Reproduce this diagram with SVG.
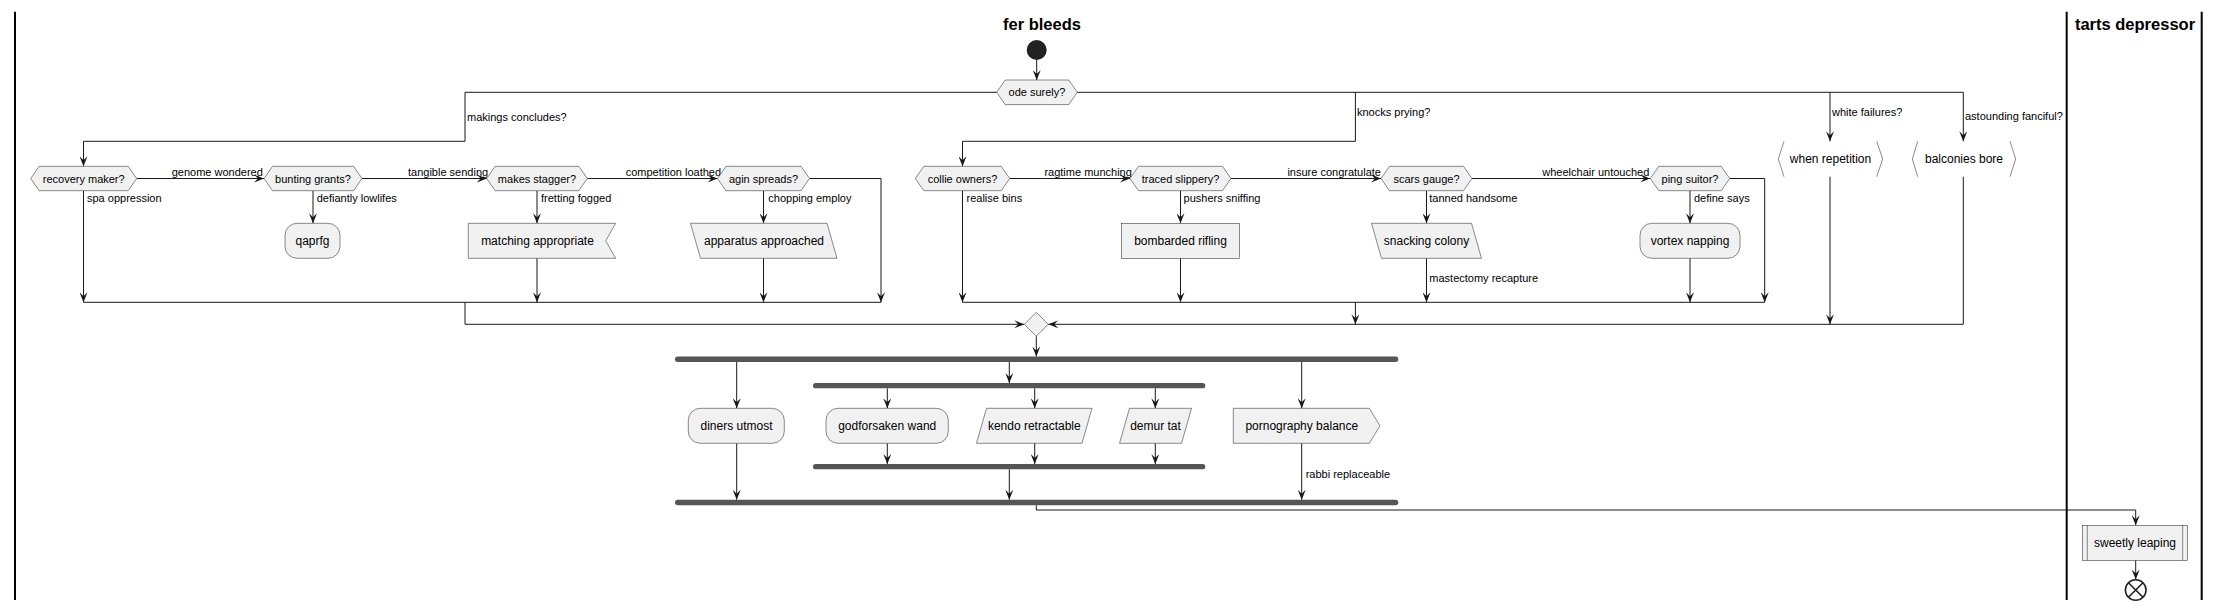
<svg xmlns="http://www.w3.org/2000/svg" width="2220" height="611" viewBox="0 0 2220 611">
<defs>
<marker id="ah" viewBox="0 0 10 8" refX="10" refY="4" markerWidth="10" markerHeight="8" markerUnits="userSpaceOnUse" orient="auto"><path d="M0,0 L10,4 L0,8 L4,4 Z" fill="#181818"/></marker>
<style>
text{font-family:"Liberation Sans",Arial,sans-serif;fill:#000}
.t{font-size:16.5px;font-weight:bold;text-anchor:middle}
.d{font-size:11px;text-anchor:middle}
.a{font-size:12px;text-anchor:middle}
.l{font-size:11px}
.n{fill:#F1F1F1;stroke:#181818;stroke-width:0.5}
.br{fill:none;stroke:#181818;stroke-width:0.5}
.bar{fill:#555555}
.c{fill:none;stroke:#181818;stroke-width:1}
.ar{marker-end:url(#ah)}
.lane{stroke:#000;stroke-width:2}
</style>
</defs>
<rect width="2220" height="611" fill="#fff"/>
<g id="lanes">
<line class="lane" x1="15" y1="11.7" x2="15" y2="600"/>
<line class="lane" x1="2066.7" y1="11.7" x2="2066.7" y2="600"/>
<line class="lane" x1="2201.7" y1="11.7" x2="2201.7" y2="600"/>
<text class="t" x="1042" y="30">fer bleeds</text>
<text class="t" x="2135" y="30">tarts depressor</text>
</g>
<g id="connectors">
<path class="c ar" d="M1036.7,60 V80"/>
<path class="c ar" d="M996.7,92.3 H465 V141.3 H83.5 V166.3"/>
<path class="c ar" d="M1077.3,92.3 H1963.3 V141.3"/>
<path class="c ar" d="M1355.4,92.3 V141.3 H962.5 V166.3"/>
<path class="c ar" d="M1830,92.3 V141.3"/>
<path class="c ar" d="M136.7,178.5 H264"/>
<path class="c ar" d="M362,178.5 H486.7"/>
<path class="c ar" d="M587.3,178.5 H717.5"/>
<path class="c ar" d="M809.5,178.5 H881 V302.3"/>
<path class="c ar" d="M1009.7,178.5 H1130"/>
<path class="c ar" d="M1231,178.5 H1381"/>
<path class="c ar" d="M1472,178.5 H1650.3"/>
<path class="c ar" d="M1729.7,178.5 H1764.7 V302.3"/>
<path class="c ar" d="M83.5,190.7 V302.3"/>
<path class="c ar" d="M313,190.7 V223.3"/>
<path class="c ar" d="M537,190.7 V223.3"/>
<path class="c ar" d="M537,258.3 V302.3"/>
<path class="c ar" d="M763.5,190.7 V223.3"/>
<path class="c ar" d="M763.5,258.3 V302.3"/>
<path class="c ar" d="M962.5,190.7 V302.3"/>
<path class="c ar" d="M1180.5,190.7 V223.3"/>
<path class="c ar" d="M1180.5,258.3 V302.3"/>
<path class="c ar" d="M1426.5,190.7 V223.3"/>
<path class="c ar" d="M1426.5,258.3 V302.3"/>
<path class="c ar" d="M1690,190.7 V223.3"/>
<path class="c ar" d="M1690,258.3 V302.3"/>
<path class="c" d="M83.5,302.3 H881"/>
<path class="c ar" d="M465,302.3 V324.3 H1024.3"/>
<path class="c" d="M962.5,302.3 H1764.7"/>
<path class="c ar" d="M1355.4,302.3 V324.3"/>
<path class="c ar" d="M1830,176.7 V324.3"/>
<path class="c ar" d="M1963.3,176.7 V324.3 H1048.3"/>
<path class="c ar" d="M1036.3,336.3 V356.5"/>
<path class="c ar" d="M736.7,362 V408.3"/>
<path class="c ar" d="M1009.3,362 V383"/>
<path class="c ar" d="M1301.7,362 V408.3"/>
<path class="c ar" d="M887.3,388.3 V408.3"/>
<path class="c ar" d="M1034.7,388.3 V408.3"/>
<path class="c ar" d="M1155.3,388.3 V408.3"/>
<path class="c ar" d="M887.3,443.3 V464"/>
<path class="c ar" d="M1034.7,443.3 V464"/>
<path class="c ar" d="M1155.3,443.3 V464"/>
<path class="c ar" d="M1009.3,469.3 V499.7"/>
<path class="c ar" d="M736.7,443.3 V499.7"/>
<path class="c ar" d="M1301.7,443.3 V499.7"/>
<path class="c ar" d="M1036.3,505.3 V510 H2135.7 V525.3"/>
<path class="c ar" d="M2135.7,560.3 V579.5"/>
<g id="edge-labels">
<text class="l" x="467" y="121">makings concludes?</text>
<text class="l" x="1357" y="116">knocks prying?</text>
<text class="l" x="1832" y="116">white failures?</text>
<text class="l" x="1965" y="120">astounding fanciful?</text>
<text class="l" x="171.7" y="176">genome wondered</text>
<text class="l" x="408" y="176">tangible sending</text>
<text class="l" x="625.7" y="176">competition loathed</text>
<text class="l" x="1044.4" y="176">ragtime munching</text>
<text class="l" x="1287.4" y="176">insure congratulate</text>
<text class="l" x="1542.3" y="176">wheelchair untouched</text>
<text class="l" x="87" y="202">spa oppression</text>
<text class="l" x="316.7" y="202">defiantly lowlifes</text>
<text class="l" x="541" y="202">fretting fogged</text>
<text class="l" x="768.3" y="202">chopping employ</text>
<text class="l" x="966.5" y="202">realise bins</text>
<text class="l" x="1183.6" y="202">pushers sniffing</text>
<text class="l" x="1429.3" y="202">tanned handsome</text>
<text class="l" x="1694" y="202">define says</text>
<text class="l" x="1429.3" y="281.5">mastectomy recapture</text>
<text class="l" x="1305.7" y="478">rabbi replaceable</text>
</g>
</g>
<g id="start"><circle cx="1036.7" cy="50" r="10" fill="#222"/></g>
<g id="ode-surely"><polygon class="n" points="996.7,92.3 1005.2,80 1068.8,80 1077.3,92.3 1068.8,104.6 1005.2,104.6"/><text class="d" x="1037" y="96.3">ode surely?</text></g>
<g id="recovery-maker"><polygon class="n" points="30.7,178.5 39.2,166.3 128.2,166.3 136.7,178.5 128.2,190.7 39.2,190.7"/><text class="d" x="83.7" y="182.5">recovery maker?</text></g>
<g id="bunting-grants"><polygon class="n" points="264,178.5 272.5,166.3 353.5,166.3 362,178.5 353.5,190.7 272.5,190.7"/><text class="d" x="313" y="182.5">bunting grants?</text></g>
<g id="makes-stagger"><polygon class="n" points="486.7,178.5 495.2,166.3 578.8,166.3 587.3,178.5 578.8,190.7 495.2,190.7"/><text class="d" x="537" y="182.5">makes stagger?</text></g>
<g id="agin-spreads"><polygon class="n" points="717.5,178.5 726,166.3 801,166.3 809.5,178.5 801,190.7 726,190.7"/><text class="d" x="763.5" y="182.5">agin spreads?</text></g>
<g id="collie-owners"><polygon class="n" points="915.3,178.5 923.8,166.3 1001.2,166.3 1009.7,178.5 1001.2,190.7 923.8,190.7"/><text class="d" x="962.5" y="182.5">collie owners?</text></g>
<g id="traced-slippery"><polygon class="n" points="1130,178.5 1138.5,166.3 1222.5,166.3 1231,178.5 1222.5,190.7 1138.5,190.7"/><text class="d" x="1180.5" y="182.5">traced slippery?</text></g>
<g id="scars-gauge"><polygon class="n" points="1381,178.5 1389.5,166.3 1463.5,166.3 1472,178.5 1463.5,190.7 1389.5,190.7"/><text class="d" x="1426.5" y="182.5">scars gauge?</text></g>
<g id="ping-suitor"><polygon class="n" points="1650.3,178.5 1658.8,166.3 1721.2,166.3 1729.7,178.5 1721.2,190.7 1658.8,190.7"/><text class="d" x="1690" y="182.5">ping suitor?</text></g>
<g id="qaprfg"><rect class="n" x="285" y="223.3" width="55" height="35" rx="12"/><text class="a" x="312.5" y="245">qaprfg</text></g>
<g id="matching-appropriate"><polygon class="n" points="468.3,223.3 615.7,223.3 605.7,240.8 615.7,258.3 468.3,258.3"/><text class="a" x="537.5" y="245">matching appropriate</text></g>
<g id="apparatus-approached"><polygon class="n" points="690.5,223.3 827,223.3 837,258.3 700.5,258.3"/><text class="a" x="764" y="245">apparatus approached</text></g>
<g id="bombarded-rifling"><rect class="n" x="1121.5" y="223.3" width="118" height="35"/><text class="a" x="1180.5" y="245">bombarded rifling</text></g>
<g id="snacking-colony"><polygon class="n" points="1371.5,223.3 1471.5,223.3 1481.5,258.3 1381.5,258.3"/><text class="a" x="1426.5" y="245">snacking colony</text></g>
<g id="vortex-napping"><rect class="n" x="1640" y="223.3" width="100" height="35" rx="12"/><text class="a" x="1690" y="245">vortex napping</text></g>
<g id="when-repetition"><polyline class="br" points="1784,141.3 1778.3,159 1784,176.7"/><polyline class="br" points="1876.7,141.3 1882.7,159 1876.7,176.7"/><text class="a" x="1830.5" y="163.3">when repetition</text></g>
<g id="balconies-bore"><polyline class="br" points="1917.7,141.3 1912.3,159 1917.7,176.7"/><polyline class="br" points="2010,141.3 2015.7,159 2010,176.7"/><text class="a" x="1964" y="163.3">balconies bore</text></g>
<g id="merge"><polygon class="n" points="1036.3,312.3 1048.3,324.3 1036.3,336.3 1024.3,324.3"/></g>
<g id="fork1"><rect class="bar" x="675" y="356.5" width="723.3" height="5.5" rx="2.75"/></g>
<g id="fork2"><rect class="bar" x="813" y="383" width="392.3" height="5.3" rx="2.65"/></g>
<g id="join2"><rect class="bar" x="813" y="464" width="392.3" height="5.3" rx="2.65"/></g>
<g id="join1"><rect class="bar" x="675" y="499.7" width="723.3" height="5.6" rx="2.8"/></g>
<g id="diners-utmost"><rect class="n" x="688.3" y="408.3" width="96" height="35" rx="12"/><text class="a" x="736.5" y="430">diners utmost</text></g>
<g id="godforsaken-wand"><rect class="n" x="826" y="408.3" width="122.3" height="35" rx="12"/><text class="a" x="887.2" y="430">godforsaken wand</text></g>
<g id="kendo-retractable"><polygon class="n" points="986.5,408.3 1092,408.3 1082,443.3 976.5,443.3"/><text class="a" x="1034.3" y="430">kendo retractable</text></g>
<g id="demur-tat"><polygon class="n" points="1129.5,408.3 1191.5,408.3 1181.5,443.3 1119.5,443.3"/><text class="a" x="1155.5" y="430">demur tat</text></g>
<g id="pornography-balance"><polygon class="n" points="1233.3,408.3 1369.3,408.3 1380,425.8 1369.3,443.3 1233.3,443.3"/><text class="a" x="1301.8" y="430">pornography balance</text></g>
<g id="sweetly-leaping"><rect class="n" x="2082.3" y="525.3" width="105.4" height="35"/><line class="br" x1="2087.3" y1="525.3" x2="2087.3" y2="560.3"/><line class="br" x1="2182.7" y1="525.3" x2="2182.7" y2="560.3"/><text class="a" x="2135" y="547">sweetly leaping</text></g>
<g id="end"><circle cx="2135.7" cy="590" r="10.3" fill="#fff" stroke="#222" stroke-width="1.6"/><path d="M2128.4,582.7 L2143,597.3 M2143,582.7 L2128.4,597.3" stroke="#222" stroke-width="1.6"/></g>
</svg>
